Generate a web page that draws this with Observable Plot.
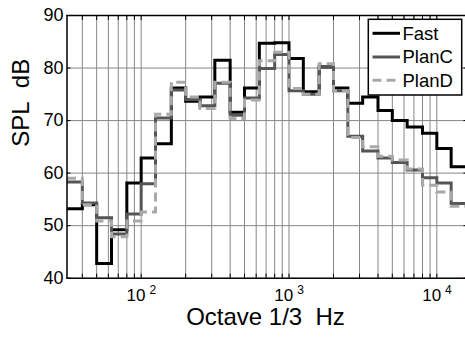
<!DOCTYPE html>
<html><head><meta charset="utf-8">
<script src="https://cdn.jsdelivr.net/npm/d3@7"></script>
<script src="https://cdn.jsdelivr.net/npm/@observablehq/plot@0.6"></script>
<style>
html,body{margin:0;padding:0;background:#fff;overflow:hidden;}
#chart{position:relative;width:465px;height:338px;overflow:hidden;}
</style></head><body><div id="chart"></div>
<script>
// 1/3-octave band centre frequencies (Hz)
const freqs = [31.5,40,50,63,80,100,125,160,200,250,315,400,500,630,800,1000,1250,1600,2000,2500,3150,4000,5000,6300,8000,10000,12500,16000];
// SPL dB per band
const fast  = [53.2,54.0,42.8,49.2,58.1,62.9,65.6,76.2,73.7,74.5,81.5,71.6,76.2,84.7,84.8,81.8,75.5,80.2,76.2,73.3,74.5,71.9,70.0,68.8,67.6,64.7,61.2,61.0];
const planC = [58.3,54.3,51.5,48.4,52.2,58.0,70.5,75.8,74.0,72.8,77.1,71.0,74.3,79.9,82.6,75.7,75.0,80.3,75.7,67.0,64.2,62.9,62.0,60.6,59.1,58.1,54.2,52.5];
const planD = [59.0,54.0,50.9,47.9,50.9,52.6,71.2,77.3,74.5,72.3,77.3,70.4,73.9,81.4,83.0,76.1,75.0,80.8,75.7,66.8,65.0,63.2,62.5,60.8,57.7,56.4,53.7,51.5];
const seriesNames = ["Fast","PlanC","PlanD"];
const seriesColors = ["#000000","#555555","#a9a9a9"];
const yTicks = [40,50,60,70,80,90];
const yGrid = [50,60,70,80];
const xGrid = [40,50,60,70,80,90,100,200,300,400,500,600,700,800,900,1000,2000,3000,4000,5000,6000,7000,8000,9000,10000];
const xDecades = [100,1000,10000];
const xExponents = ["2","3","4"];
const xLabel = "Octave 1/3\u00a0 Hz";
const yLabel = "SPL\u00a0 dB";

const seriesValues = [fast, planC, planD];
const rows = [];
seriesNames.forEach((name, k) => freqs.forEach((f, i) => rows.push({series: name, f, v: seriesValues[k][i]})));
const bySeries = name => rows.filter(r => r.series === name);

const font = "'Liberation Sans', Arial, Helvetica, sans-serif";
const lineBase = {x: "f", y: "v", curve: "step-after", strokeWidth: 3, strokeLinejoin: "miter", strokeLinecap: "butt", strokeMiterlimit: 4};

const plot = Plot.plot({
  width: 465, height: 338,
  marginLeft: 66.5, marginRight: -1.5, marginTop: 15, marginBottom: 60.3,
  x: {type: "log", domain: [31.5, 16000], range: [66.5, 466.5]},
  y: {domain: [40, 90], range: [277.7, 15]},
  style: {fontFamily: font, background: "white", color: "black"},
  marks: [
    Plot.ruleX(xGrid, {x: d => d, y1: 40, y2: 90, stroke: "#878787", strokeWidth: 1}),
    Plot.ruleY(yGrid, {y: d => d, x1: 31.5, x2: 16000, stroke: "#878787", strokeWidth: 1}),
    Plot.line(bySeries("Fast"), {...lineBase, stroke: seriesColors[0]}),
    Plot.line(bySeries("PlanC"), {...lineBase, stroke: seriesColors[1]}),
    Plot.line(bySeries("PlanD"), {...lineBase, stroke: seriesColors[2], strokeDasharray: "9,5"}),
    Plot.axisX({anchor: "bottom", ticks: xGrid, tickSize: -4, tickFormat: () => "", label: null, strokeWidth: 1}),
    Plot.axisX({anchor: "top", ticks: xGrid, tickSize: -4, tickFormat: () => "", label: null, strokeWidth: 1}),
    Plot.axisY({anchor: "left", ticks: yTicks, tickSize: -4, tickFormat: () => "", label: null, strokeWidth: 1}),
    Plot.axisY({anchor: "right", ticks: yTicks, tickSize: -4, tickFormat: () => "", label: null, strokeWidth: 1}),
    Plot.frame({stroke: "#000", strokeWidth: 1.5}),
    Plot.text(yTicks, {frameAnchor: "left", y: d => d, text: d => String(d), textAnchor: "end", dx: -3.5, fontSize: 18, fill: "#000"}),
    Plot.text(xDecades, {frameAnchor: "bottom", x: d => d, text: () => "10", dx: -5.2, dy: 22.8, fontSize: 17, fill: "#000"}),
    Plot.text(xDecades, {frameAnchor: "bottom", x: d => d, text: (d, i) => xExponents[i], dx: 11.6, dy: 16.2, fontSize: 12, fill: "#000"}),
    Plot.text([xLabel], {frameAnchor: "bottom", dx: -1.5, dy: 47, fontSize: 24, fill: "#000"}),
    Plot.text([yLabel], {frameAnchor: "left", rotate: -90, dx: -46, fontSize: 24, fill: "#000"})
  ]
});
document.getElementById("chart").appendChild(plot);

// legend box (MATLAB style, inside the axes, top-right)
const svg = d3.select(plot);
const lg = svg.append("g").attr("font-family", font).attr("text-anchor", "start");
lg.append("rect").attr("x", 368.3).attr("y", 19.3).attr("width", 93.4).attr("height", 75.7)
  .attr("fill", "white").attr("stroke", "black").attr("stroke-width", 1.5);
const rowY = [33.3, 57.0, 80.3];
seriesNames.forEach((name, i) => {
  lg.append("line").attr("x1", 372.5).attr("x2", 400).attr("y1", rowY[i]).attr("y2", rowY[i])
    .attr("stroke", seriesColors[i]).attr("stroke-width", 3)
    .attr("stroke-dasharray", name === "PlanD" ? "9,5" : null);
  lg.append("text").attr("x", 402.5).attr("y", rowY[i]).attr("dy", "0.35em")
    .attr("text-anchor", "start")
    .attr("font-size", 18.5).attr("fill", "black").text(name);
});
</script>
</body></html>
